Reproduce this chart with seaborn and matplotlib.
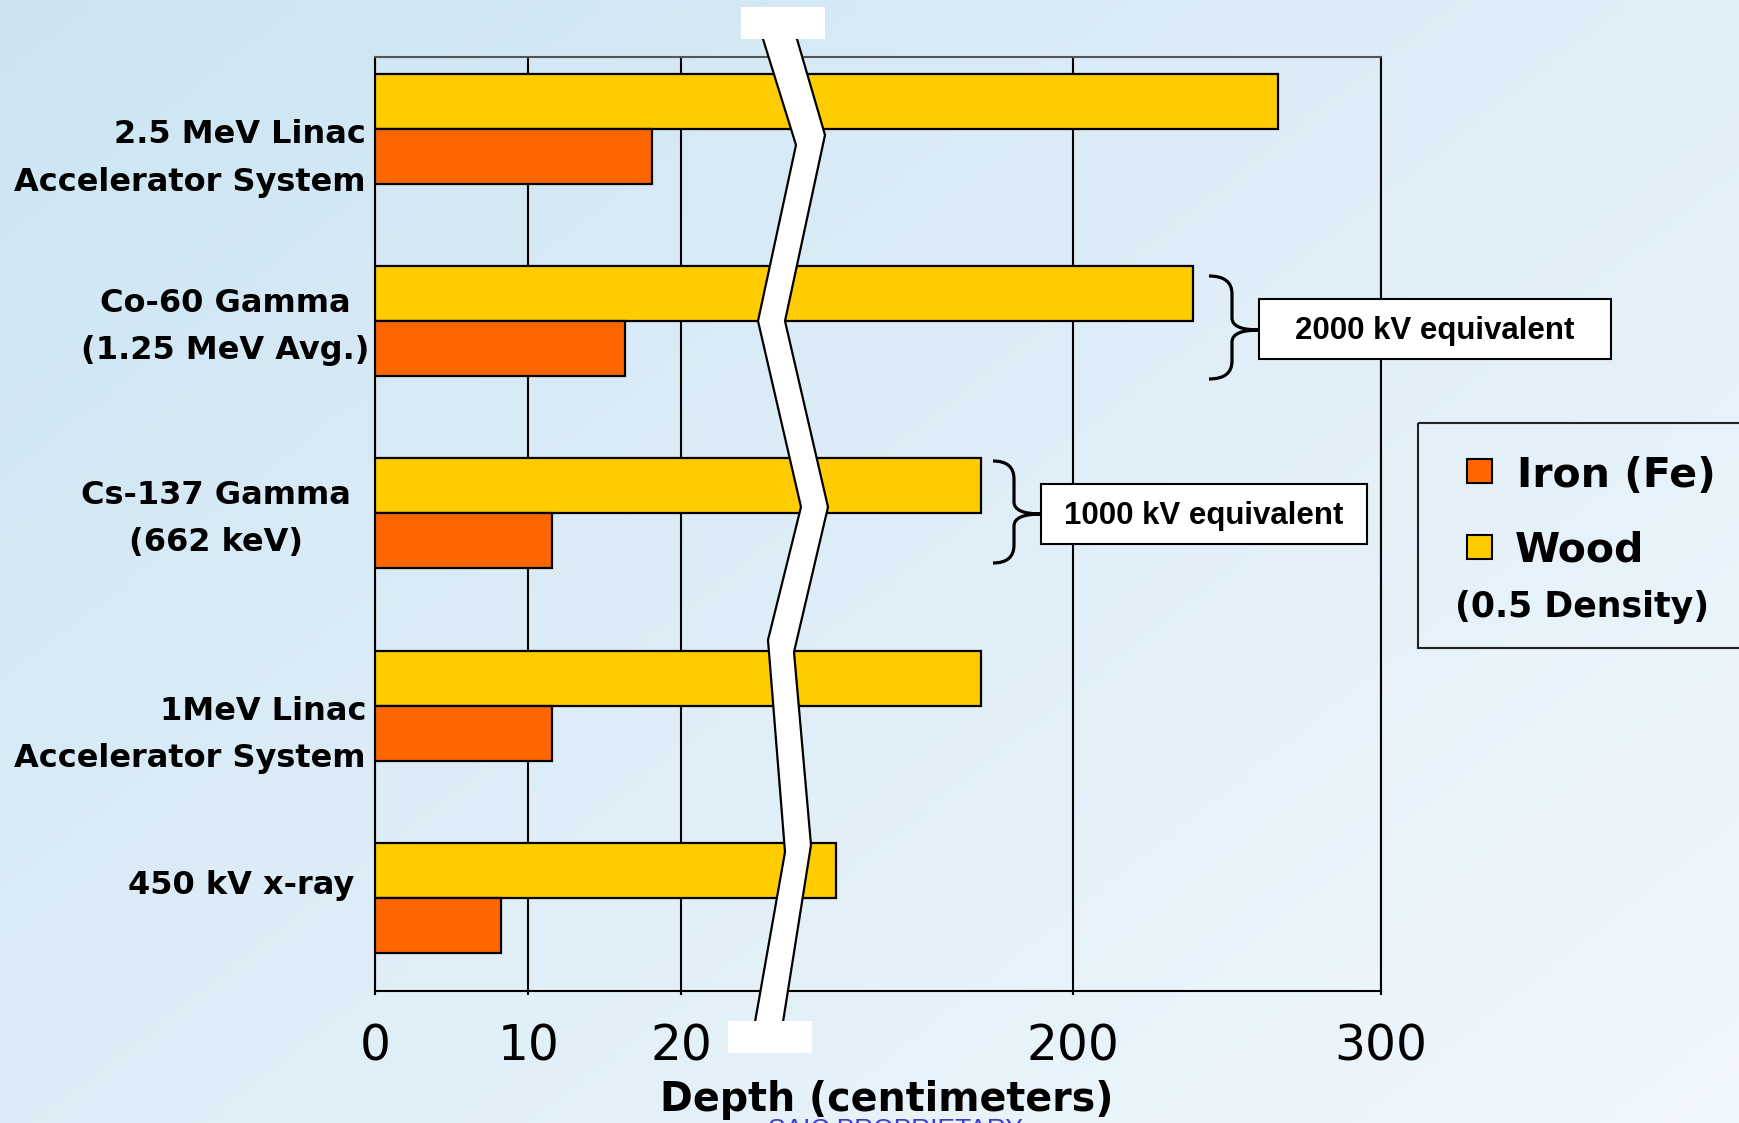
import numpy as np
import pandas as pd
import matplotlib
matplotlib.use("Agg")
import matplotlib.pyplot as plt
import matplotlib.transforms as mtransforms
from matplotlib.patches import Rectangle, Polygon, PathPatch
from matplotlib.path import Path
import seaborn as sns

# ---------------------------------------------------------------- data
sources = [
    "2.5 MeV Linac\nAccelerator System",
    "Co-60 Gamma\n(1.25 MeV Avg.)",
    "Cs-137 Gamma\n(662 keV)",
    "1MeV Linac\nAccelerator System",
    "450 kV x-ray",
]
iron_depth = [18.1, 16.35, 11.55, 11.55, 8.2]
wood_depth = [266.5, 239.0, 170.0, 170.0, 123.0]
materials = ["Wood", "Iron (Fe)"]
material_colors = {"Wood": "#FFCC00", "Iron (Fe)": "#FF6600"}
x_ticks = [0, 10, 20, 200, 300]
x_label = "Depth (centimeters)"
legend_labels = ["Iron (Fe)", "Wood", "(0.5 Density)"]
equiv_notes = ["2000 kV equivalent", "1000 kV equivalent"]
footer = "SAIC PROPRIETARY"

df = pd.DataFrame({
    "source": sources * 2,
    "material": ["Wood"] * len(sources) + ["Iron (Fe)"] * len(sources),
    "depth": wood_depth + iron_depth,
})

# ---------------------------------------------------------------- figure
W, H = 1739, 1123
fig = plt.figure(figsize=(W / 100, H / 100), dpi=100)
# pixel coordinates measured from the top-left corner
pix = mtransforms.Affine2D().scale(1 / W, -1 / H).translate(0, 1) + fig.transFigure

# soft diagonal blue background
bg = fig.add_axes([0, 0, 1, 1], zorder=-10)
yy, xx = np.mgrid[0:1:240j, 0:1:360j]
t = 0.55 * xx + 0.45 * yy
c0 = np.array([0.80, 0.895, 0.950])
c1 = np.array([0.945, 0.970, 0.990])
bg.imshow(c0 + (c1 - c0) * t[..., None], aspect="auto", extent=[0, 1, 0, 1], origin="upper")
bg.axis("off")

ax = fig.add_axes([375 / W, 1 - 991 / H, 1006 / W, 934 / H])
ax.set_facecolor("none")

sns.barplot(
    data=df, y="source", x="depth", hue="material", hue_order=materials,
    order=sources, palette=material_colors, orient="h", width=0.572,
    saturation=1, edgecolor="black", linewidth=1.6, legend=False, ax=ax, zorder=3,
)


# broken x axis: 0-25 and 100-300 drawn at different scales
def fwd(x):
    x = np.asarray(x, dtype=float)
    return np.where(x <= 25, x * 15.32,
                    np.where(x < 100, 383.0 + (x - 25) * (7.0 / 75.0),
                             390.0 + (x - 100) * 3.08))


def inv(y):
    y = np.asarray(y, dtype=float)
    return np.where(y <= 383.0, y / 15.32,
                    np.where(y < 390.0, 25 + (y - 383.0) * (75.0 / 7.0),
                             100 + (y - 390.0) / 3.08))


ax.set_xscale("function", functions=(fwd, inv))
ax.set_xlim(0, 300)
ax.set_ylim(4.482, -0.372)
ax.set_xticks(x_ticks)
ax.set_xticklabels([str(v) for v in x_ticks], fontsize=35, family="DejaVu Sans")
ax.tick_params(axis="x", length=3, width=1.5, pad=20, direction="out", colors="black")
ax.set_yticks([])
ax.set_xlabel("")
ax.set_ylabel("")
ax.set_axisbelow(True)
ax.grid(axis="x", color="black", linewidth=1.5)
ax.grid(axis="y", visible=False)
for s in ax.spines.values():
    s.set_color("black")
    s.set_linewidth(1.5)
ax.spines["top"].set_color("#555555")

# category labels beside the bars
ylab = mtransforms.blended_transform_factory(ax.transAxes, ax.transData)
label_layout = [  # (x px, ha, y offset in category units)
    (366, "right", 0.155),
    (225, "center", 0.03),
    (216, "center", 0.03),
    (366, "right", 0.15),
    (354, "right", -0.068),
]
for i, (lab, (xp, ha, dy)) in enumerate(zip(sources, label_layout)):
    ax.text((xp - 375) / 1006, i + dy, lab, transform=ylab, ha=ha, va="center",
            multialignment=ha, fontsize=23, fontweight="bold",
            family="DejaVu Sans", linespacing=1.68, clip_on=False)

# axis break band
left_edge = [(763, 30), (763, 39), (796, 145), (758, 321), (801, 507),
             (768, 640), (785, 852), (755, 1022), (754, 1032)]
right_edge = [(797, 30), (797, 39), (825, 135), (785, 321), (828, 507),
              (794, 652), (811, 845), (783, 1022), (782, 1032)]
band = Polygon(left_edge + right_edge[::-1], closed=True, facecolor="white",
               edgecolor="none", transform=pix, zorder=20)
fig.add_artist(band)
for edge in (left_edge, right_edge):
    xs, ys = zip(*edge)
    fig.add_artist(plt.Line2D(xs, ys, color="black", lw=1.6, transform=pix, zorder=21))
fig.add_artist(Rectangle((741, 7), 84, 32, facecolor="white", edgecolor="none",
                         transform=pix, zorder=22))
fig.add_artist(Rectangle((728, 1021), 84, 32, facecolor="white", edgecolor="none",
                         transform=pix, zorder=22))


# curly braces with labelled boxes
def brace(x0, x1, xm, ytop, ybot, ymid, r=18):
    verts = [(x0, ytop), (x1, ytop), (x1, ytop + r),
             (x1, ymid - 12), (x1, ymid), (xm, ymid),
             (xm, ymid), (x1, ymid), (x1, ymid + 12),
             (x1, ybot - r), (x1, ybot), (x0, ybot)]
    codes = [Path.MOVETO, Path.CURVE3, Path.CURVE3,
             Path.LINETO, Path.CURVE3, Path.CURVE3,
             Path.MOVETO, Path.CURVE3, Path.CURVE3,
             Path.LINETO, Path.CURVE3, Path.CURVE3]
    fig.add_artist(PathPatch(Path(verts, codes), facecolor="none", edgecolor="black",
                             lw=2.3, transform=pix, zorder=15))


brace(1209, 1232, 1259, 276, 379, 330)
brace(993, 1014, 1041, 461, 563, 514)

boxes = [(1259, 299, 352, 60), (1041, 484, 326, 60)]
for (bx, by, bw, bh), note in zip(boxes, equiv_notes):
    fig.add_artist(Rectangle((bx, by), bw, bh, facecolor="white", edgecolor="black",
                             lw=1.5, transform=pix, zorder=16))
    fig.text(bx + bw / 2, by + bh / 2 + 2, note, transform=pix, ha="center", va="center",
             fontsize=22.5, fontweight="bold", family="Liberation Sans", zorder=17)

# legend
fig.add_artist(Rectangle((1418, 423), 340, 225, facecolor="none", edgecolor="#222222",
                         lw=1.5, transform=pix, zorder=16))
for (sy, mat) in zip([459, 535], ["Iron (Fe)", "Wood"]):
    fig.add_artist(Rectangle((1467, sy), 25, 24, facecolor=material_colors[mat],
                             edgecolor="black", lw=1.5, transform=pix, zorder=17))
fig.text(1517, 487, legend_labels[0], transform=pix, ha="left", va="baseline",
         fontsize=29.5, fontweight="bold", family="DejaVu Sans")
fig.text(1515, 562, legend_labels[1], transform=pix, ha="left", va="baseline",
         fontsize=29.5, fontweight="bold", family="DejaVu Sans")
fig.text(1455, 617, legend_labels[2], transform=pix, ha="left", va="baseline",
         fontsize=25, fontweight="bold", family="DejaVu Sans")

# axis title and footer
fig.text(768, 1137, footer, transform=pix, ha="left", va="baseline",
         fontsize=19, family="Liberation Sans", color="#3a3ad6", zorder=1)
fig.text(887, 1111, x_label, transform=pix, ha="center", va="baseline",
         fontsize=28.5, fontweight="bold", family="DejaVu Sans", zorder=2)

fig.savefig("out.png", dpi=100)
